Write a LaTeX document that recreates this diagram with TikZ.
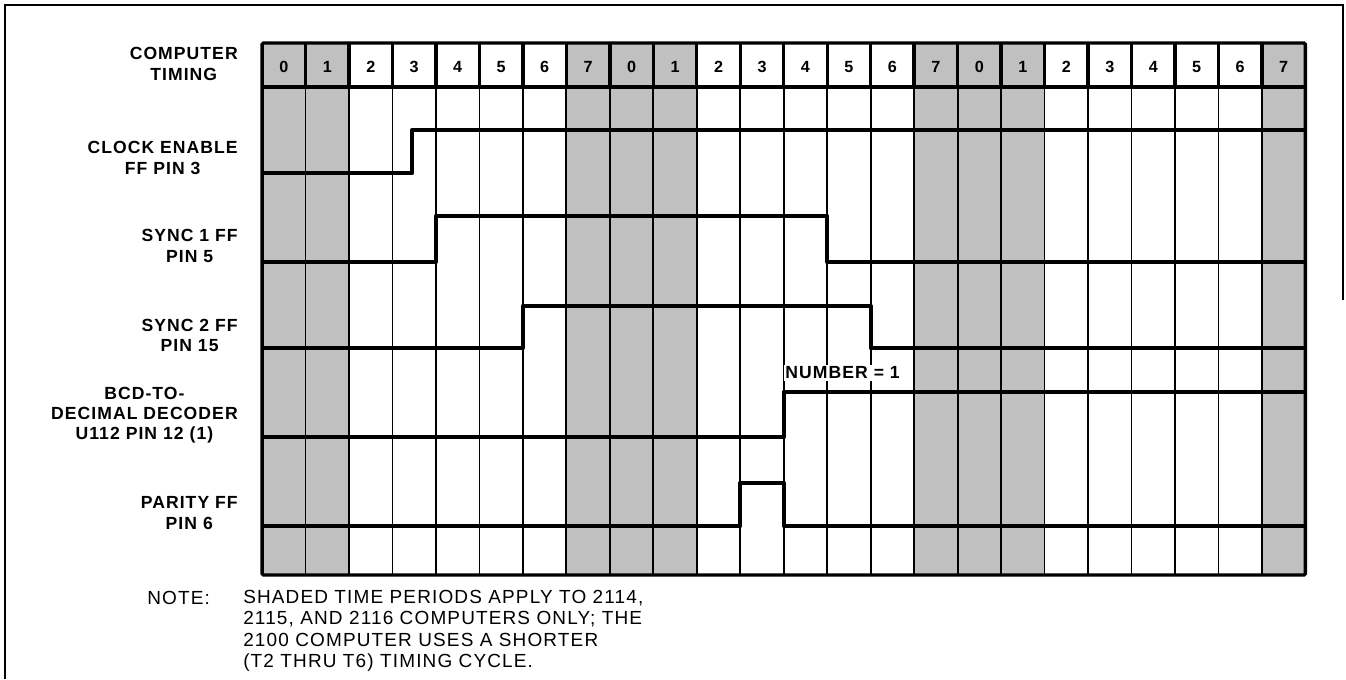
\documentclass[tikz,border=0pt]{standalone}
\usepackage{fontspec}
\setmainfont{Liberation Sans}
\newfontfamily\tagfont{Liberation Sans}[LetterSpace=6]
\newfontfamily\notefont{Liberation Sans}[LetterSpace=6]
\usetikzlibrary{positioning}
\definecolor{slotgray}{RGB}{192,192,192}

\begin{document}
\begin{tikzpicture}[
    x=0.025cm, y=-0.025cm,
    lbl/.style={anchor=east, align=center, inner sep=0pt, font=\fontsize{12.5}{14.4}\selectfont\tagfont\bfseries},
    digit/.style={inner sep=0pt, font=\fontsize{11.5}{13}\selectfont\bfseries},
    wave/.style={line width=3pt, line join=round},
    gridline/.style={line width=1.3pt},
    hdrline/.style={line width=2.4pt}
]
\useasboundingbox (0,0) rectangle (1346,679);

% frame round the figure
\draw[line width=1.9pt] (5,679) -- (5,5) -- (1343,5) -- (1343,300);

\begin{scope}[x=1.0865cm, xshift=6.55cm]
% shaded time periods
\foreach \c in {0,1,7,8,9,15,16,17,23}
    \fill[slotgray] (\c,43) rectangle (\c+1,575);
% columns
\foreach \c in {1,...,23} {
    \draw[gridline] (\c,87) -- (\c,575);
    \draw[hdrline] (\c,43) -- (\c,87);
}
\draw[hdrline] (0,87) -- (24,87);

% waveforms
\draw[wave] (0,173) -- (3.45,173) -- (3.45,130) -- (24,130);
\draw[wave] (0,262) -- (4,262) -- (4,216) -- (13,216) -- (13,262) -- (24,262);
\draw[wave] (0,348) -- (6,348) -- (6,306) -- (14,306) -- (14,348) -- (24,348);
\draw[wave] (0,437) -- (12,437) -- (12,392) -- (24,392);
\draw[wave] (0,526) -- (11,526) -- (11,483) -- (12,483) -- (12,526) -- (24,526);

\draw[line width=2.4pt, rounded corners=1pt] (0,43) rectangle (24,575);

% timing numbers
\foreach \c [evaluate=\c as \d using {int(mod(\c,8))}] in {0,...,23}
    \node (t\c) at (\c+0.5,67) [digit] {\d};

\node (num) at (12,373) [anchor=west, fill=white, inner sep=1pt,
    font=\fontsize{12.5}{14.4}\selectfont\tagfont\bfseries] {NUMBER = 1};
\end{scope}

% signal names
\node (timing) at (238,64) [lbl] {COMPUTER\\TIMING};
\node (clken) at (238,158) [lbl] {CLOCK ENABLE\\FF PIN 3};
\node (sync1) at (238,246) [lbl] {SYNC 1 FF\\PIN 5};
\node (sync2) at (238,335.5) [lbl] {SYNC 2 FF\\PIN 15};
\node (bcd) at (238,415) [lbl] {BCD-TO-\\DECIMAL DECODER\\U112 PIN 12 (1)};
\node (parity) at (238,513) [lbl] {PARITY FF\\PIN 6};

% note
\node (notehead) at (147,604) [anchor=base west, inner sep=0pt,
    font=\fontsize{13.5}{15.1}\selectfont\notefont] {NOTE:};
\node (notebody) at (243,590) [anchor=north west, align=left, inner sep=0pt,
    font=\fontsize{13.5}{15.1}\selectfont\notefont] {
    SHADED TIME PERIODS APPLY TO 2114,\\
    2115, AND 2116 COMPUTERS ONLY; THE\\
    2100 COMPUTER USES A SHORTER\\
    (T2 THRU T6) TIMING CYCLE.
};
\end{tikzpicture}
\end{document}
